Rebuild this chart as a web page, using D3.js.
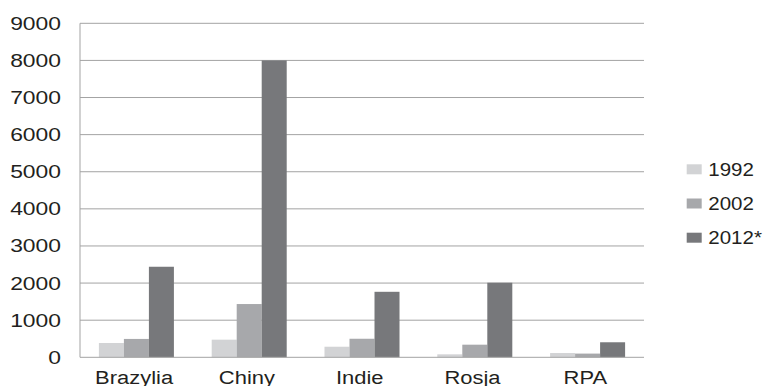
<!DOCTYPE html>
<html>
<head>
<meta charset="utf-8">
<script src="https://cdn.jsdelivr.net/npm/d3@7"></script>
<style>
  html, body { margin: 0; padding: 0; background: #fff; }
  svg { display: block; }
  text { font-family: "Liberation Sans", Arial, sans-serif; fill: #231f20; }
</style>
</head>
<body>
<svg id="chart" width="765" height="386"></svg>
<script>
// Kraje i serie
const categories = ["Brazylia", "Chiny", "Indie", "Rosja", "RPA"];
const seriesNames = ["1992", "2002", "2012*"];
const values1992 = [385, 475, 285, 80, 115];
const values2002 = [495, 1435, 500, 340, 100];
const values2012 = [2440, 8000, 1765, 2010, 405];
const yTicks = [0, 1000, 2000, 3000, 4000, 5000, 6000, 7000, 8000, 9000];
const seriesColors = ["#d2d3d5", "#a7a8ab", "#77787b"];

const seriesValues = [values1992, values2002, values2012];

const svg = d3.select("#chart");
const plot = { left: 80, right: 644, top: 23.3, bottom: 357.3 };
const fontFamily = "'Liberation Sans', Arial, sans-serif";

const x0 = d3.scaleBand()
  .domain(categories)
  .range([plot.left, plot.right])
  .paddingInner(0.335)
  .paddingOuter(0.1675);

const x1 = d3.scaleBand()
  .domain(seriesNames)
  .range([0, x0.bandwidth()]);

const y = d3.scaleLinear()
  .domain([0, 9000])
  .range([plot.bottom, plot.top]);

// Linie siatki
svg.append("g")
  .selectAll("line")
  .data(yTicks.filter(d => d > 0))
  .join("line")
  .attr("x1", plot.left)
  .attr("x2", plot.right)
  .attr("y1", d => y(d))
  .attr("y2", d => y(d))
  .attr("stroke", "#a3a3a3")
  .attr("stroke-width", 1);

// Słupki
const groups = svg.append("g")
  .selectAll("g")
  .data(categories)
  .join("g")
  .attr("transform", d => `translate(${x0(d)},0)`);

groups.selectAll("rect")
  .data((c, i) => seriesNames.map((s, k) => ({ s, v: seriesValues[k][i], k })))
  .join("rect")
  .attr("x", d => x1(d.s))
  .attr("width", x1.bandwidth())
  .attr("y", d => y(d.v))
  .attr("height", d => y(0) - y(d.v))
  .attr("fill", d => seriesColors[d.k]);

// Osie
svg.append("line")
  .attr("x1", plot.left).attr("x2", plot.left)
  .attr("y1", plot.top).attr("y2", plot.bottom)
  .attr("stroke", "#a3a3a3");
svg.append("line")
  .attr("x1", plot.left).attr("x2", plot.right)
  .attr("y1", plot.bottom).attr("y2", plot.bottom)
  .attr("stroke", "#a3a3a3");

// Etykiety osi Y (czcionka lekko rozciągnięta w poziomie)
const yAxis = d3.axisLeft(y).tickValues(yTicks).tickFormat(d3.format("d")).tickSize(0);
const gy = svg.append("g")
  .attr("transform", `translate(${plot.left},0)`)
  .call(yAxis);
gy.select(".domain").remove();
gy.selectAll("text")
  .attr("x", 0)
  .attr("dy", null)
  .attr("text-anchor", "end")
  .attr("transform", "translate(-19,6) scale(1.23,1)")
  .attr("font-size", "18.6px")
  .attr("font-family", fontFamily)
  .attr("fill", "#231f20");

// Etykiety osi X
const xAxis = d3.axisBottom(x0).tickSize(0);
const gx = svg.append("g")
  .attr("transform", `translate(0,${plot.bottom})`)
  .call(xAxis);
gx.select(".domain").remove();
gx.selectAll("text")
  .attr("y", 0)
  .attr("dy", null)
  .attr("text-anchor", "middle")
  .attr("transform", "translate(-2.3,27) scale(1.18,1)")
  .attr("font-size", "18.6px")
  .attr("font-family", fontFamily)
  .attr("fill", "#231f20");

// Legenda
const legend = svg.append("g")
  .attr("transform", "translate(686.7,169.3)");
const items = legend.selectAll("g")
  .data(seriesNames)
  .join("g")
  .attr("transform", (d, i) => `translate(0,${i * 34.2})`);
items.append("rect")
  .attr("x", 0).attr("y", -5)
  .attr("width", 15).attr("height", 10)
  .attr("fill", (d, i) => seriesColors[i]);
items.append("text")
  .attr("transform", "translate(21.6,6.4) scale(1.14,1)")
  .attr("font-size", "18px")
  .text(d => d);
</script>
</body>
</html>
